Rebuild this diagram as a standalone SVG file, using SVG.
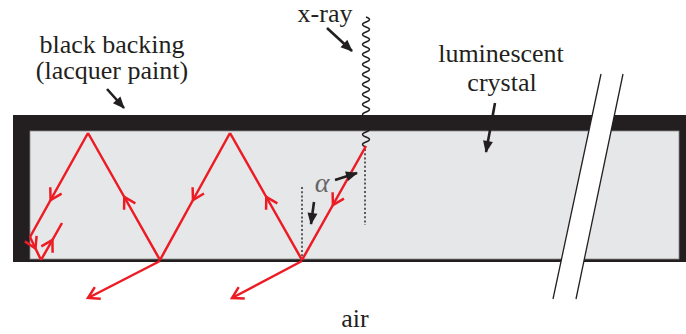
<svg xmlns="http://www.w3.org/2000/svg" width="686" height="334" viewBox="0 0 686 334">
<style>
  .ray{fill:none;stroke:#ed1c24;stroke-width:2.5;stroke-linejoin:miter}
  .ptr{fill:none;stroke:#231f20;stroke-width:2.6}
  .dot{fill:none;stroke:#231f20;stroke-width:1.4;stroke-dasharray:2 2.2}
</style>
<defs>
  <marker id="chev" markerUnits="userSpaceOnUse" viewBox="-14 -9 18 18" markerWidth="18" markerHeight="18" refX="0" refY="0" orient="auto" overflow="visible">
    <path d="M -11 -6.5 L 0 0 L -11 6.5" fill="none" stroke="#ed1c24" stroke-width="2.5"/>
  </marker>
  <marker id="head" markerUnits="userSpaceOnUse" viewBox="-12 -6 14 12" markerWidth="14" markerHeight="12" refX="0" refY="0" orient="auto" overflow="visible">
    <path d="M -11 -5 L 1 0 L -11 5 Z" fill="#231f20"/>
  </marker>
</defs>

<g id="crystal">
  <rect x="13" y="115" width="673" height="147" fill="#231f20"/>
  <rect x="30" y="131" width="649" height="128" fill="#e6e7e8" stroke="#8a8a8a" stroke-width="0.8"/>
</g>

<g id="break">
  <polygon points="601,74 623,74 576,299 553,299" fill="#ffffff"/>
  <line x1="601" y1="74" x2="553" y2="299" stroke="#231f20" stroke-width="1.3"/>
  <line x1="623" y1="74" x2="576" y2="299" stroke="#231f20" stroke-width="1.3"/>
</g>

<g id="xray">
  <path d="M 366 17 q 7 2.5 0 5 t 0 5 t 0 5 t 0 5 t 0 5 t 0 5 t 0 5 t 0 5 t 0 5 t 0 5 t 0 5 t 0 5 t 0 5 t 0 5 t 0 5 t 0 5 t 0 5 t 0 5 t 0 5 t 0 5 t 0 5 t 0 5 t 0 5 t 0 5 t 0 5 t 0 5" fill="none" stroke="#231f20" stroke-width="1.4"/>
</g>

<g id="normals">
  <line class="dot" x1="365" y1="149" x2="365" y2="225"/>
  <line class="dot" x1="302" y1="187" x2="302" y2="260"/>
</g>

<g id="rays">
  <path class="ray" d="M 366 146 L 332.9 205 L 302 260" marker-mid="url(#chev)"/>
  <path class="ray" d="M 302 260 L 266.3 197 L 230 133" marker-mid="url(#chev)"/>
  <path class="ray" d="M 230 133 L 193 200 L 160 260" marker-mid="url(#chev)"/>
  <path class="ray" d="M 160 260 L 124.3 197 L 88 133" marker-mid="url(#chev)"/>
  <path class="ray" d="M 88 133 L 50.6 200 L 30 237" marker-mid="url(#chev)"/>
  <path class="ray" d="M 30 237 L 35.5 248.5 L 41 260" marker-mid="url(#chev)"/>
  <path class="ray" d="M 41 260 L 52.4 240 L 62 223"  marker-mid="url(#chev)"/>
  <path class="ray" d="M 160 261 L 88 298" marker-end="url(#chev)"/>
  <path class="ray" d="M 302 261 L 232 298" marker-end="url(#chev)"/>
</g>

<g id="pointers">
  <line class="ptr" x1="107" y1="89" x2="124" y2="108" marker-end="url(#head)"/>
  <line class="ptr" x1="327" y1="28" x2="352" y2="51" marker-end="url(#head)"/>
  <line class="ptr" x1="495" y1="103" x2="486" y2="152" marker-end="url(#head)"/>
  <line class="ptr" x1="335" y1="180" x2="357" y2="173" marker-end="url(#head)"/>
  <line class="ptr" x1="314" y1="202" x2="311" y2="224" marker-end="url(#head)"/>
</g>

<g id="labels" font-family="Liberation Serif, Times New Roman, DejaVu Serif, serif" font-size="26" fill="#231f20" text-anchor="middle">
  <text x="112" y="53">black backing</text>
  <text x="112" y="79">(lacquer paint)</text>
  <text x="325" y="22">x-ray</text>
  <text x="501" y="62">luminescent</text>
  <text x="502" y="91">crystal</text>
  <text x="355" y="327">air</text>
  <text x="322" y="192" font-size="28" font-style="italic" fill="#666666">α</text>
</g>
</svg>
